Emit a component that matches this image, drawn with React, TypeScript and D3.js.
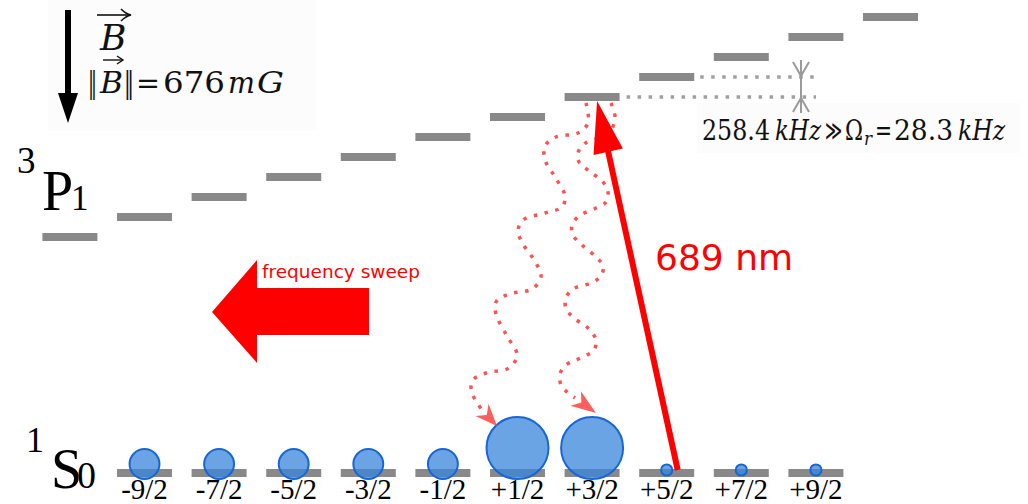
import React from 'react';
import * as d3 from 'd3';

const W = 1028;
const H = 504;

// 1S0 ground state (F = 9/2): magnetic sublevels, labels and relative populations
const groundM = [-4.5, -3.5, -2.5, -1.5, -0.5, 0.5, 1.5, 2.5, 3.5, 4.5];
const groundLabels = ['-9/2', '-7/2', '-5/2', '-3/2', '-1/2', '+1/2', '+3/2', '+5/2', '+7/2', '+9/2'];
const groundPopulation = [1, 1, 1, 1, 1, 4.3, 4.3, 0.14, 0.14, 0.14];

// 3P1 excited state (F = 11/2) sublevels
const excitedM = [-5.5, -4.5, -3.5, -2.5, -1.5, -0.5, 0.5, 1.5, 2.5, 3.5, 4.5, 5.5];

// Physical parameters shown in the annotations
const zeemanStepKHz = 258.4;
const rabiKHz = 28.3;
const fieldMilliGauss = 676;
const wavelengthNm = 689;

// Laser drives ground +5/2 -> excited +3/2
const laserGroundM = 2.5;
const laserExcitedM = 1.5;

// Spontaneous-emission paths (excited +3/2 decaying to +1/2 and +3/2)
const decayPathA: [number, number][] = [
  [586, 103], [588, 123], [578, 133], [556, 137], [545, 146], [545, 160], [555, 177],
  [565, 196], [562, 207], [545, 213], [523, 220], [518, 231], [523, 244], [536, 263],
  [541, 277], [532, 289], [509, 294], [496, 302], [496, 314], [507, 336], [517, 355],
  [509, 368], [486, 373], [472, 381], [472, 393], [478, 404], [482, 410],
];
const decayTipA: [number, number] = [497, 426];

const decayPathB: [number, number][] = [
  [611, 103], [615, 117], [611, 130], [598, 138], [584, 144], [578, 153], [579, 162],
  [589, 171], [603, 182], [608, 192], [606, 202], [596, 208], [579, 216], [572, 225],
  [573, 235], [582, 245], [596, 257], [603, 266], [601, 276], [591, 283], [573, 289],
  [566, 298], [566, 309], [574, 318], [589, 329], [596, 340], [594, 350], [585, 356],
  [566, 365], [560, 374], [561, 385], [567, 392], [575, 398],
];
const decayTipB: [number, number] = [596, 413];

// Horizontal placement of sublevels
const x = d3.scaleLinear().domain([-4.5, 4.5]).range([144.5, 815.9]);
// Zeeman energy of the excited sublevels (kHz) -> vertical position
const yExcited = d3
  .scaleLinear()
  .domain([-5.5 * zeemanStepKHz, 5.5 * zeemanStepKHz])
  .range([237, 17]);
const groundY = 473;
const barW = 55;
const barH = 8;
const barColor = '#898989';

const rScale = d3.scaleSqrt().domain([0, d3.max(groundPopulation) as number]).range([0, 31]);

const wave = d3
  .line<[number, number]>()
  .x((d) => d[0])
  .y((d) => d[1])
  .curve(d3.curveCatmullRom.alpha(0.5));

function arrowHead(tip: [number, number], from: [number, number], len: number, half: number, notch: number) {
  const dx = tip[0] - from[0];
  const dy = tip[1] - from[1];
  const l = Math.hypot(dx, dy);
  const ux = dx / l;
  const uy = dy / l;
  const nx = -uy;
  const ny = ux;
  const bx = tip[0] - ux * len;
  const by = tip[1] - uy * len;
  const pts = [
    [tip[0], tip[1]],
    [bx + nx * half, by + ny * half],
    [tip[0] - ux * (len - notch), tip[1] - uy * (len - notch)],
    [bx - nx * half, by - ny * half],
  ];
  return 'M' + pts.map((p) => p.join(',')).join('L') + 'Z';
}

const mathFont = "'DejaVu Serif', serif";
const termFont = "'Liberation Serif', 'Times New Roman', serif";
const sansFont = "'DejaVu Sans', sans-serif";

type Piece = { t: string; x: number; len: number; italic?: boolean; size?: number; dy?: number };

function MathRow({ pieces, y, size }: { pieces: Piece[]; y: number; size: number }) {
  return (
    <g fontFamily={mathFont} fill="#111">
      {pieces.map((p, i) => (
        <text
          key={i}
          x={p.x}
          y={y + (p.dy || 0)}
          fontSize={p.size || size}
          fontStyle={p.italic ? 'italic' : 'normal'}
          textLength={p.len}
          lengthAdjust="spacingAndGlyphs"
        >
          {p.t}
        </text>
      ))}
    </g>
  );
}

export default function App() {
  const exY = (m: number) => yExcited(m * zeemanStepKHz);

  // Laser arrow geometry
  const lx0 = x(laserGroundM) + 11;
  const ly0 = groundY - 3;
  const lx1 = x(laserExcitedM) + 5;
  const ly1 = exY(laserExcitedM) + 4;
  const ldx = lx1 - lx0;
  const ldy = ly1 - ly0;
  const ll = Math.hypot(ldx, ldy);
  const ux = ldx / ll;
  const uy = ldy / ll;
  const headLen = 52;
  const headHalf = 15;
  const hbx = lx1 - ux * headLen;
  const hby = ly1 - uy * headLen;
  const laserHead = `M${lx1},${ly1}L${hbx - uy * headHalf},${hby + ux * headHalf}L${hbx + uy * headHalf},${hby - ux * headHalf}Z`;

  // Zeeman gap marker between excited +3/2 and +5/2
  const gapLow = exY(1.5);
  const gapHigh = exY(2.5);
  const markX = 801;

  const fmt = (v: number) => String(v);

  return (
    <svg
      width={W}
      height={H}
      viewBox={`0 0 ${W} ${H}`}
      style={{ position: 'absolute', left: 0, top: 0, background: '#fff' }}
    >
      {/* annotation backgrounds */}
      <rect x={48} y={0} width={268} height={131} fill="#fcfcfc" />
      <rect x={697} y={103} width={323} height={50} fill="#fcfcfc" />

      {/* magnetic field arrow */}
      <rect x={65} y={10} width={6} height={86} fill="#000" />
      <path d="M58,93L78,93L68,123Z" fill="#000" />
      <text x={100} y={50} fontFamily={mathFont} fontStyle="italic" fontSize={36} fill="#111">
        B
      </text>
      <path d="M97,15H129" stroke="#111" strokeWidth={1.6} />
      <path d="M121,9Q126,14 131,15Q126,16 121,21" stroke="#111" strokeWidth={1.6} fill="none" />
      <MathRow
        y={93}
        size={29}
        pieces={[
          { t: '\u2016', x: 88, len: 9 },
          { t: 'B', x: 100, len: 23, italic: true },
          { t: '\u2016', x: 124, len: 10 },
          { t: '=', x: 136, len: 24 },
          { t: fmt(fieldMilliGauss), x: 163, len: 62 },
          { t: 'm', x: 228, len: 27, italic: true },
          { t: 'G', x: 257, len: 27, italic: true },
        ]}
      />
      <path d="M103,60H122" stroke="#111" strokeWidth={1.4} />
      <path d="M117,56L123,60L117,64" stroke="#111" strokeWidth={1.4} fill="none" />

      {/* term symbols */}
      <g fontFamily={termFont} fill="#000">
        <text x={17} y={173} fontSize={37}>3</text>
        <text x={42} y={210} fontSize={56}>P</text>
        <text x={71} y={210} fontSize={35}>1</text>
        <text x={26} y={452} fontSize={36}>1</text>
        <text x={51} y={488} fontSize={56}>S</text>
        <text x={77} y={488} fontSize={38}>0</text>
      </g>

      {/* excited sublevels */}
      {excitedM.map((m) => (
        <rect key={'e' + m} x={x(m) - barW / 2} y={exY(m) - barH / 2} width={barW} height={barH} fill={barColor} />
      ))}

      {/* Zeeman splitting marker */}
      <g stroke="#a0a0a0" strokeWidth={3.5} strokeDasharray="3.5 7.5" fill="none">
        <line x1={x(1.5) + barW / 2 + 7} x2={816} y1={gapLow} y2={gapLow} />
        <line x1={x(2.5) + barW / 2 + 6} x2={816} y1={gapHigh} y2={gapHigh} />
      </g>
      <g stroke="#9a9a9a" strokeWidth={2} fill="none">
        <line x1={markX} x2={markX} y1={gapHigh - 17} y2={gapLow + 16} />
        <path d={`M${markX - 8},${gapHigh - 15}L${markX},${gapHigh - 1}L${markX + 8},${gapHigh - 15}`} />
        <path d={`M${markX - 8},${gapLow + 15}L${markX},${gapLow + 1}L${markX + 8},${gapLow + 15}`} />
      </g>
      <MathRow
        y={140}
        size={28}
        pieces={[
          { t: fmt(zeemanStepKHz), x: 702, len: 68 },
          { t: 'kHz', x: 775, len: 46, italic: true },
          { t: '\u226B', x: 825, len: 17 },
          { t: '\u03A9', x: 845, len: 18 },
          { t: 'r', x: 864, len: 8, italic: true, size: 19, dy: 5 },
          { t: '=', x: 875, len: 17 },
          { t: fmt(rabiKHz), x: 894, len: 59 },
          { t: 'kHz', x: 958, len: 47, italic: true },
        ]}
      />

      {/* ground sublevels */}
      {groundM.map((m, i) => (
        <g key={'g' + m}>
          <rect x={x(m) - barW / 2} y={groundY - barH / 2} width={barW} height={barH} fill={barColor} />
          <text
            x={x(m)}
            y={499}
            textAnchor="middle"
            fontFamily={termFont}
            fontSize={29}
            fill="#000"
          >
            {groundLabels[i]}
          </text>
        </g>
      ))}

      {/* populations */}
      {groundM.map((m, i) => {
        const r = rScale(groundPopulation[i]);
        const cy = Math.min(groundY + 6 - r, groundY - 3);
        return (
          <circle
            key={'p' + m}
            cx={x(m)}
            cy={cy}
            r={r}
            fill="#3a86dc"
            fillOpacity={0.75}
            stroke="#1766d8"
            strokeWidth={2}
          />
        );
      })}

      {/* spontaneous decay */}
      <g stroke="#ff5252" strokeWidth={3.5} strokeDasharray="3.5 7.5" fill="none">
        <path d={wave(decayPathA) || ''} />
        <path d={wave(decayPathB) || ''} />
      </g>
      <path d={arrowHead(decayTipA, decayPathA[decayPathA.length - 1], 22, 9, 7)} fill="#ff4d4d" fillOpacity={0.9} />
      <path d={arrowHead(decayTipB, decayPathB[decayPathB.length - 1], 25, 9, 7)} fill="#ff4d4d" fillOpacity={0.9} />

      {/* laser */}
      <line x1={lx0} y1={ly0} x2={hbx + ux * 2} y2={hby + uy * 2} stroke="#ff0000" strokeWidth={6} />
      <path d={laserHead} fill="#ff0000" />
      <text x={655} y={270} fontFamily={sansFont} fontSize={36} fill="#ff0000">
        {`${wavelengthNm} nm`}
      </text>

      {/* frequency sweep */}
      <path d="M212,312L257,260L257,288L369,288L369,335L257,335L257,363Z" fill="#ff0000" />
      <text x={262} y={278} fontFamily={sansFont} fontSize={18.5} fill="#ff0000">
        frequency sweep
      </text>
    </svg>
  );
}
